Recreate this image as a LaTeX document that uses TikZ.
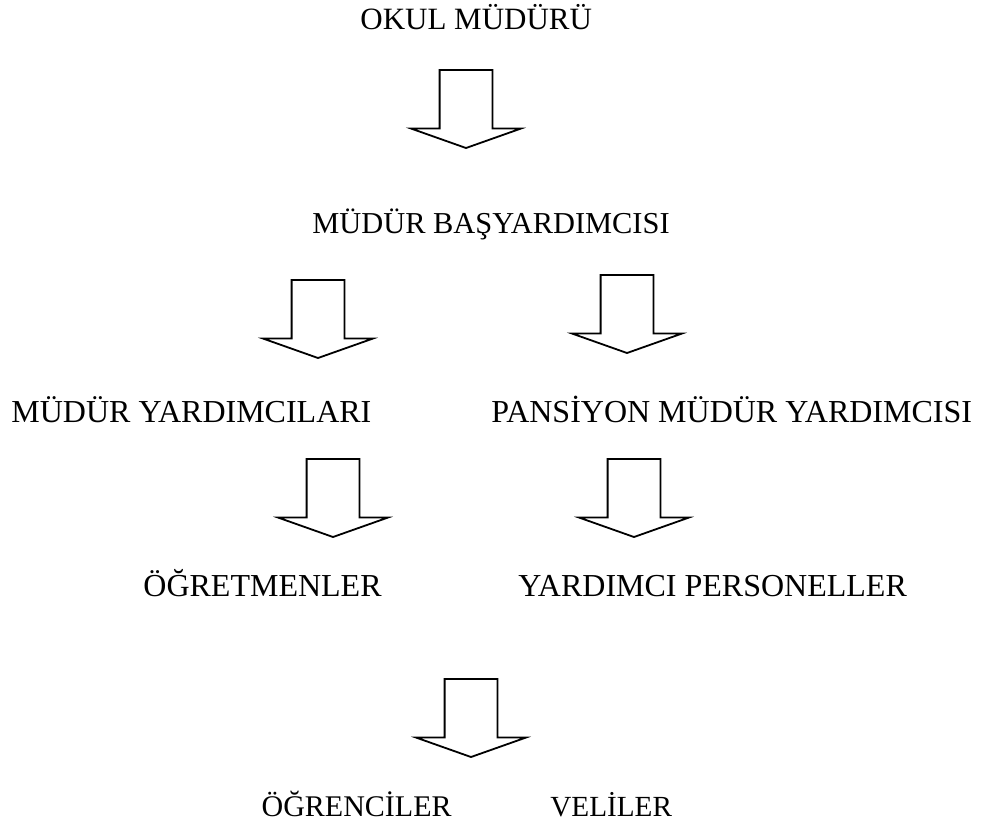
\documentclass[tikz,border=0pt]{standalone}
\usepackage{fontspec}
\setmainfont{Liberation Serif}
\usetikzlibrary{shapes.arrows, positioning}
\tikzset{
    unvan/.style={inner sep=0pt, font=\fontsize{#1}{18}\selectfont, anchor=base west},
    unvan/.default=15,
    blockarrow/.style={single arrow, draw, line width=0.9pt, fill=white, rotate=-90, anchor=tip,
        minimum height=39pt, minimum width=0pt, inner xsep=0pt, inner ysep=12.75pt, outer sep=0pt,
        single arrow head extend=14.25pt, single arrow tip angle=141}
}

\begin{document}
\begin{tikzpicture}[x=0.5pt, y=-0.5pt]
    \useasboundingbox (0,0) rectangle (984,826);
    \node (okul) [unvan=15.5] at (360,29) {OKUL MÜDÜRÜ};
    \node (basyrd) [unvan=15.2] at (312,233) {MÜDÜR BAŞYARDIMCISI};
    \node (myrd) [unvan=16] at (11,422) {MÜDÜR YARDIMCILARI};
    \node (pansiyon) [unvan=16] at (491,422) {PANSİYON MÜDÜR YARDIMCISI};
    \node (ogretmen) [unvan=16, anchor=base east] at (382,596) {ÖĞRETMENLER};
    \node (personel) [unvan=16] at (518,596) {YARDIMCI PERSONELLER};
    \node (ogrenci) [unvan, anchor=base east] at (452,816) {ÖĞRENCİLER};
    \node (veli) [unvan=14.6] at (550,816) {VELİLER};

    % block arrows
    \node (a1) [blockarrow] at (466,148) {};
    \node (a2) [blockarrow] at (318,358) {};
    \node (a3) [blockarrow] at (627,353) {};
    \node (a4) [blockarrow] at (333,537) {};
    \node (a5) [blockarrow] at (634,537) {};
    \node (a6) [blockarrow] at (471,757) {};

\end{tikzpicture}
\end{document}
